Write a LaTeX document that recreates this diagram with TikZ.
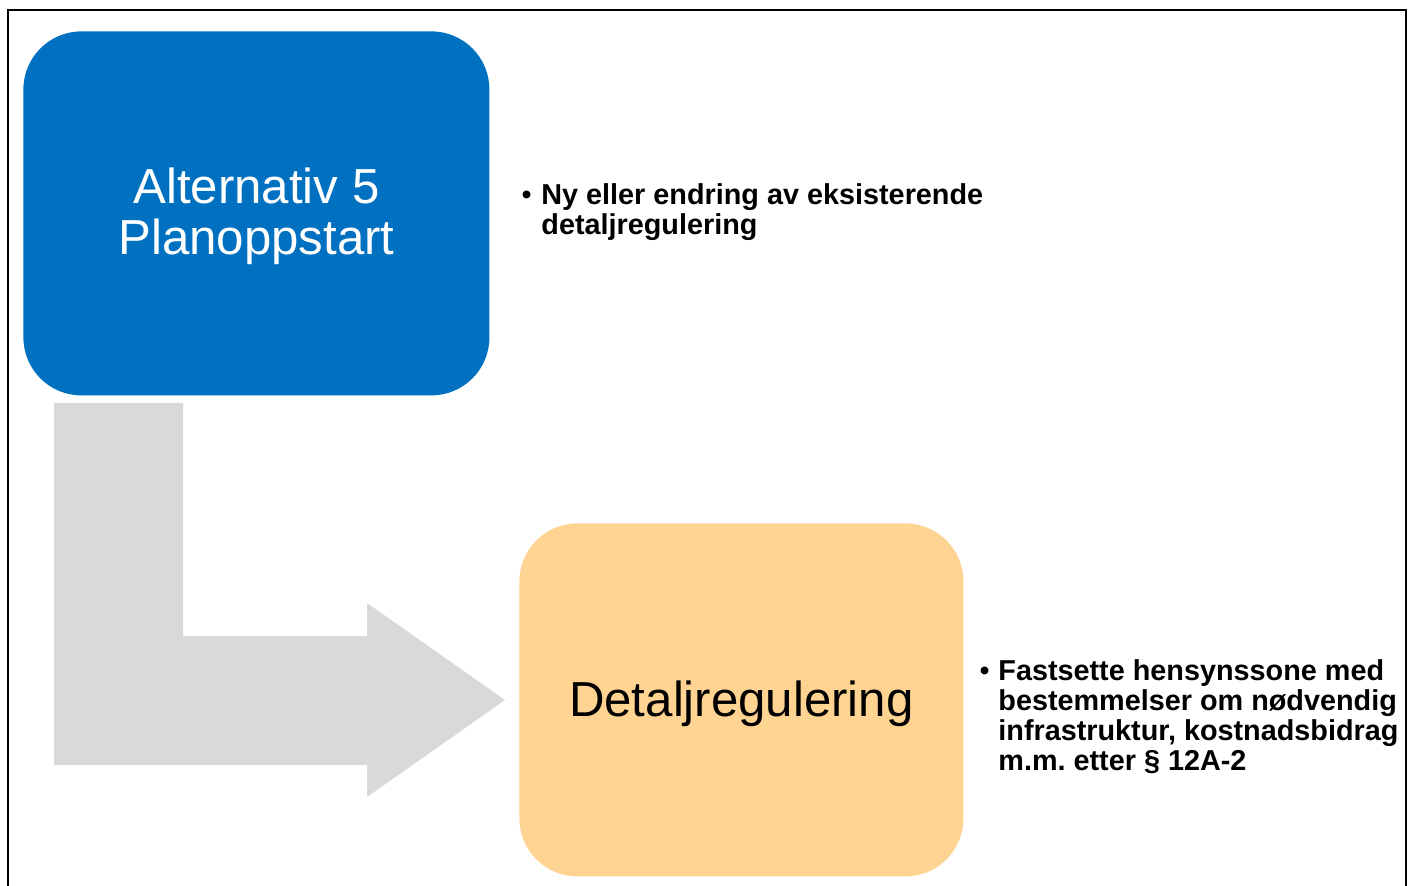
\documentclass[tikz,border=0pt]{standalone}
\usepackage{fontspec}
\setmainfont{Liberation Sans}
\frenchspacing
\definecolor{boxblue}{RGB}{0,112,192}
\definecolor{boxorange}{RGB}{255,211,145}
\definecolor{arrowgray}{RGB}{217,217,217}
\begin{document}
\begin{tikzpicture}[x=0.5pt,y=-0.5pt,
  stagebox/.style={rectangle, rounded corners=29pt, inner sep=0pt, anchor=north west},
  titletext/.style={font=\fontsize{24.6}{25.5}\selectfont, align=center, inner sep=0pt},
  bullettext/.style={font=\bfseries\fontsize{14.4}{15}\selectfont, inner sep=0pt, anchor=base west},
  bulletmark/.style={font=\fontsize{14.4}{15}\selectfont, inner sep=0pt, anchor=base east}]
\useasboundingbox (0,0) rectangle (1416,886);
\clip (0,0) rectangle (1416,886);
\draw[line width=1.3pt] (8,10) rectangle (1406,920);
% boxes
\node[stagebox, fill=boxblue, minimum width=233pt, minimum height=182pt] (alt) at (23,31) {};
\node[stagebox, fill=boxorange, minimum width=222pt, minimum height=176.5pt] (det) at (519,523) {};
% bent arrow
\fill[arrowgray] (54,403) -- (183,403) -- (183,636) -- (367,636) -- (367,603) -- (505,700) -- (367,797) -- (367,765) -- (54,765) -- cycle;
% titles
\node[titletext, text=white, yshift=-3*0.5pt] (alttext) at (alt.center) {Alternativ 5\\Planoppstart};
\node[titletext, text=black, yshift=-4*0.5pt] (dettext) at (det.center) {Detaljregulering};
% bullets
\node[bulletmark] (b1) at (532,205) {•};
\node[bullettext] (t1) at (541,205) {\begin{tabular}[t]{@{}l@{}}Ny eller endring av eksisterende\\detaljregulering\end{tabular}};
\node[bulletmark] (b2) at (990,680) {•};
\node[bullettext] (t2) at (998,680) {\begin{tabular}[t]{@{}l@{}}Fastsette hensynssone med\\bestemmelser om nødvendig\\infrastruktur, kostnadsbidrag\\m.m. etter § 12A-2\end{tabular}};
\end{tikzpicture}
\end{document}
